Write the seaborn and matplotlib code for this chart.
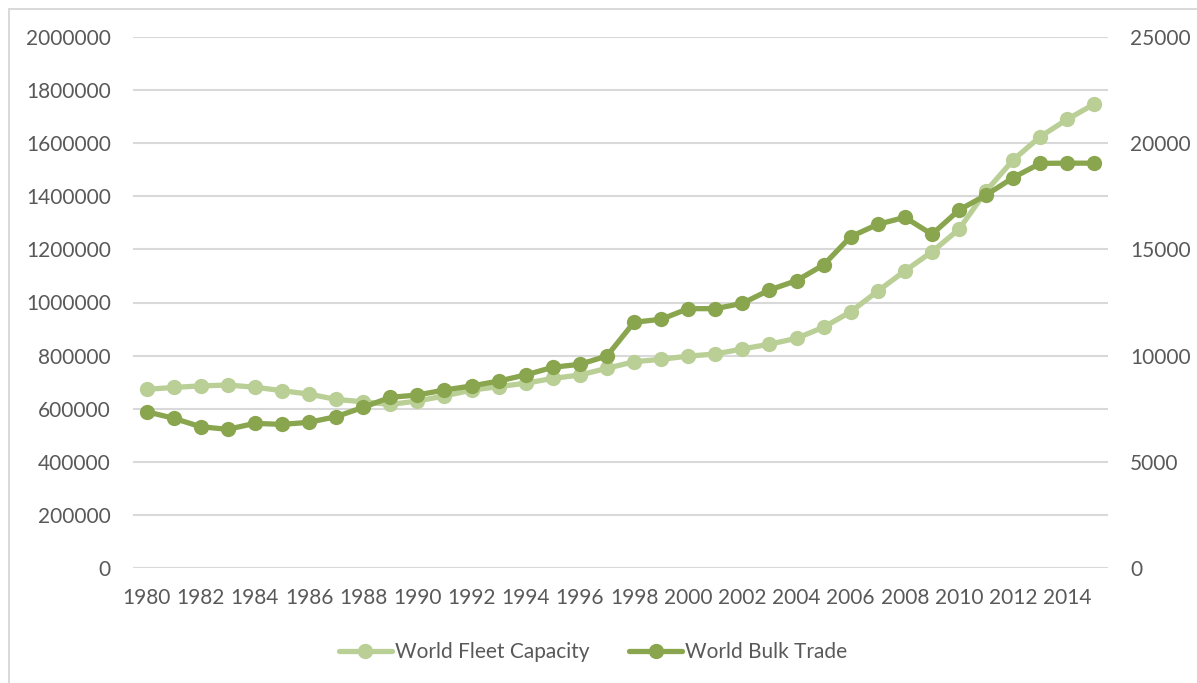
import matplotlib
matplotlib.use("Agg")
import matplotlib.pyplot as plt
from matplotlib.lines import Line2D
import seaborn as sns
import pandas as pd

# Annual series, 1980-2015
years = list(range(1980, 2016))
fleet_capacity = [
    673000, 680000, 686000, 689000, 681000, 668000, 655000, 635000, 626000, 616000,
    629000, 648000, 670000, 683000, 696000, 714000, 727000, 752000, 777000, 786000,
    798000, 806000, 825000, 843000, 865000, 907000, 965000, 1043000, 1119000, 1191000,
    1276000, 1420000, 1537000, 1625000, 1690000, 1748000,
]
bulk_trade = [
    7360, 7050, 6650, 6530, 6810, 6760, 6860, 7125, 7565, 8035,
    8145, 8380, 8570, 8800, 9090, 9450, 9590, 9980, 11570, 11710,
    12210, 12210, 12460, 13090, 13530, 14270, 15600, 16180, 16510, 15710,
    16855, 17560, 18380, 19050, 19060, 19060,
]
left_ticks = [0, 200000, 400000, 600000, 800000, 1000000, 1200000, 1400000,
              1600000, 1800000, 2000000]
right_ticks = [0, 5000, 10000, 15000, 20000, 25000]
year_ticks = years[::2]

series_names = ["World Fleet Capacity", "World Bulk Trade"]
light_green = "#B9CF96"
dark_green = "#89A64E"
text_gray = "#595959"
grid_gray = "#D9D9D9"

df = pd.DataFrame({"year": years, "fleet": fleet_capacity, "trade": bulk_trade})

sns.set_theme(style="white")
plt.rcParams["font.family"] = ["Lato", "DejaVu Sans"]
font_size = 15

W, H = 1197, 683
fig = plt.figure(figsize=(W / 100, H / 100), dpi=100)
fig.patch.set_facecolor("white")

# plot area
ax = fig.add_axes([133 / W, 1 - 568 / H, (1108 - 133) / W, (568 - 37) / H])
ax2 = ax.twinx()

line_kw = dict(marker="o", markersize=11, markeredgewidth=0, linewidth=3.8,
               solid_capstyle="round")
sns.lineplot(data=df, x="year", y="fleet", ax=ax, color=light_green,
             label=series_names[0], legend=False, **line_kw)
sns.lineplot(data=df, x="year", y="trade", ax=ax2, color=dark_green,
             label=series_names[1], legend=False, **line_kw)

ax.set_xlim(years[0] - 0.5, years[-1] + 0.5)
ax.set_ylim(left_ticks[0], left_ticks[-1])
ax2.set_ylim(right_ticks[0], right_ticks[-1])

ax.set_xticks(year_ticks)
ax.set_xticklabels([str(y) for y in year_ticks])
ax.set_yticks(left_ticks)
ax.set_yticklabels([str(v) for v in left_ticks])
ax2.set_yticks(right_ticks)
ax2.set_yticklabels([str(v) for v in right_ticks])

ax.set_xlabel("")
ax.set_ylabel("")
ax2.set_ylabel("")

ax.tick_params(axis="x", length=0, pad=14.5, labelsize=font_size, labelcolor=text_gray)
ax.tick_params(axis="y", length=0, pad=16, labelsize=font_size, labelcolor=text_gray)
ax2.tick_params(axis="y", length=0, pad=16, labelsize=font_size, labelcolor=text_gray)

ax.grid(axis="y", color=grid_gray, linewidth=1.5)
ax.grid(axis="x", visible=False)
ax2.grid(False)
ax.set_axisbelow(True)
for a in (ax, ax2):
    for s in a.spines.values():
        s.set_visible(False)

# chart border
fig.add_artist(Line2D([8.5 / W, 8.5 / W], [0, 1 - 8.5 / H], color=grid_gray,
                      linewidth=1.4, transform=fig.transFigure))
fig.add_artist(Line2D([8.5 / W, 1], [1 - 8.5 / H, 1 - 8.5 / H], color=grid_gray,
                      linewidth=1.4, transform=fig.transFigure))

handles = [ax.get_lines()[0], ax2.get_lines()[0]]
fig.legend(handles, series_names, loc="center", bbox_to_anchor=(593 / W, 1 - 652 / H),
           ncol=2, frameon=False, fontsize=font_size, labelcolor=text_gray,
           handlelength=2.55, handletextpad=0.15, columnspacing=1.9)

fig.savefig("out.png", dpi=100, facecolor="white")
